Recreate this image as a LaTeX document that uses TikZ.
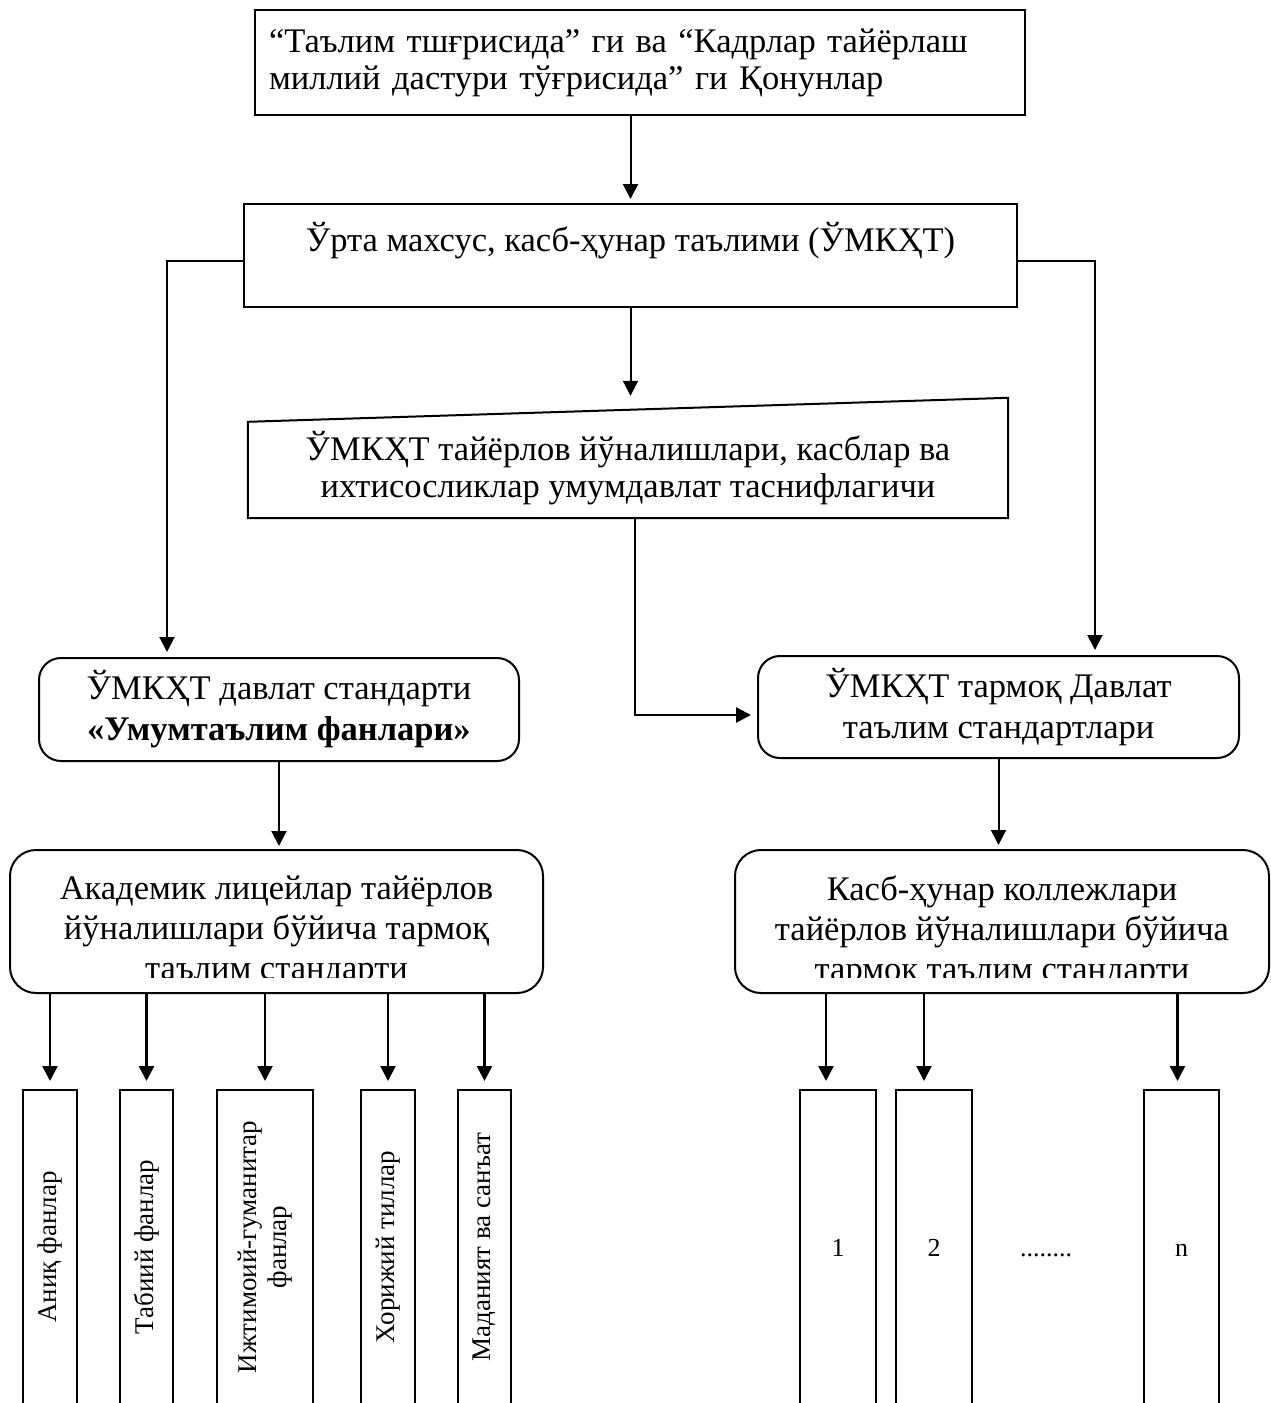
\documentclass[tikz,border=0pt]{standalone}
\usepackage{fontspec}
\setmainfont{Liberation Serif}
\usetikzlibrary{arrows.meta,calc}
\tikzset{boxtext/.style={align=center,inner sep=0pt,font=\fontsize{34.5}{37}\selectfont},
	sqbox/.style={boxtext,draw,line width=2pt},
	rbox/.style={sqbox,rounded corners=22pt,font=\fontsize{34.5}{41}\selectfont},
	lcol/.style={draw,line width=2pt,rotate=90,minimum width=314pt,inner sep=0pt,align=center,font=\fontsize{27}{30}\selectfont},
	rcol/.style={draw,line width=2pt,minimum width=76pt,minimum height=314pt,inner sep=0pt,text height=18pt,text depth=0pt,font=\fontsize{26}{30}\selectfont},
	arr/.style={-{Triangle[length=15pt,width=15pt]},line width=2pt}}

\begin{document}
\begin{tikzpicture}[x=1pt,y=-1pt]
\path[use as bounding box,clip] (0,0) rectangle (1271,1403);
\node[sqbox,align=left,text width=742pt,inner xsep=14pt,minimum height=105pt] (qon) at (640,62.5) {“Таълим тшғрисида” ги ва “Кадрлар тайёрлаш\\миллий дастури тўғрисида” ги Қонунлар};
\node[sqbox,minimum width=773pt,minimum height=103pt] (umk) at (630.5,255.5) {Ўрта махсус, касб-ҳунар таълими (ЎМКҲТ)\\ \mbox{}};
\node[boxtext,minimum width=760pt,minimum height=100pt] (tas) at (628,468) {ЎМКҲТ тайёрлов йўналишлари, касблар ва\\ихтисосликлар умумдавлат таснифлагичи};
\draw[line width=2pt] (tas.south west) -- (tas.south east) -- ($(tas.north east)+(0,-20)$) -- ($(tas.north west)+(0,4)$) -- cycle;
\node[rbox,minimum width=480pt,minimum height=103pt] (std1) at (279,709.5) {ЎМКҲТ давлат стандарти\\\textbf{«Умумтаълим фанлари»}};
\node[rbox,minimum width=481pt,minimum height=102pt] (std2) at (998.5,707) {ЎМКҲТ тармоқ Давлат\\таълим стандартлари};
\node[rbox,rounded corners=26pt,minimum width=533pt,minimum height=143pt] (lic) at (276.5,921.5) {};
\node[rbox,rounded corners=26pt,minimum width=534pt,minimum height=143pt] (kol) at (1002,921.5) {};
\begin{scope}
\clip (lic.north west) rectangle ($(kol.south east)+(0,-17)$);
\node[boxtext,font=\fontsize{34.5}{40}\selectfont,anchor=north] (lictxt) at ($(lic.north)+(0,27)$) {Академик лицейлар тайёрлов\\йўналишлари бўйича тармоқ\\таълим стандарти};
\node[boxtext,font=\fontsize{34.5}{40}\selectfont,anchor=north] (koltxt) at ($(kol.north)+(0,27)$) {Касб-ҳунар коллежлари\\тайёрлов йўналишлари бўйича\\тармоқ таълим стандарти};
\end{scope}
\node[lcol,minimum height=54pt] (c1) at (50,1247) {Аниқ фанлар};
\node[lcol,minimum height=53pt] (c2) at (146.5,1247) {Табиий фанлар};
\node[lcol,minimum height=96pt] (c3) at (265,1247) {Ижтимоий-гуманитар\\фанлар};
\node[lcol,minimum height=54pt] (c4) at (388,1247) {Хорижий тиллар};
\node[lcol,minimum height=53pt] (c5) at (484.5,1247) {Маданият ва санъат};
\node[rcol] (k1) at (838,1247) {1};
\node[rcol] (k2) at (934,1247) {2};
\node[rcol,minimum width=75pt] (kn) at (1181.5,1247) {n};
\node[anchor=base,inner sep=0pt,font=\fontsize{26}{30}\selectfont] (dots) at ($(k2.base)+(112,0)$) {........};
% connectors
\draw[arr,shorten >=4pt] (qon.south -| umk.north) -- (umk.north);
\draw[arr] (umk.south) -- ($(umk.south |- tas.north)+(0,-22)$);
\draw[arr,shorten >=5pt] ($(umk.west)+(0,5)$) -| ($(std1.north west)+(129,0)$);
\draw[arr,shorten >=5pt] ($(umk.east)+(0,5)$) -| ($(std2.north east)+(-145,0)$);
\draw[arr,line width=2.5pt,shorten >=6pt] ($(tas.south)+(7,0)$) |- ($(std2.west)+(0,8)$);
\draw[arr,shorten >=3pt] (std1.south) -- (std1.south |- lic.north);
\draw[arr,shorten >=4pt] (std2.south) -- (std2.south |- kol.north);
\draw[arr,line width=2.5pt,shorten >=8pt] (lic.south -| c1) -- (c1.east);
\draw[arr,line width=2.5pt,shorten >=8pt] (lic.south -| c2) -- (c2.east);
\draw[arr,line width=2.5pt,shorten >=8pt] (lic.south -| c3) -- (c3.east);
\draw[arr,line width=2.5pt,shorten >=8pt] (lic.south -| c4) -- (c4.east);
\draw[arr,line width=2.5pt,shorten >=8pt] (lic.south -| c5) -- (c5.east);
\draw[arr,line width=2.5pt,shorten >=8pt] ($(kol.south -| k1)+(-12,0)$) -- ($(k1.north)+(-12,0)$);
\draw[arr,line width=2.5pt,shorten >=8pt] ($(kol.south -| k2)+(-10,0)$) -- ($(k2.north)+(-10,0)$);
\draw[arr,line width=2.5pt,shorten >=8pt] ($(kol.south -| kn)+(-4,0)$) -- ($(kn.north)+(-4,0)$);
\end{tikzpicture}
\end{document}
